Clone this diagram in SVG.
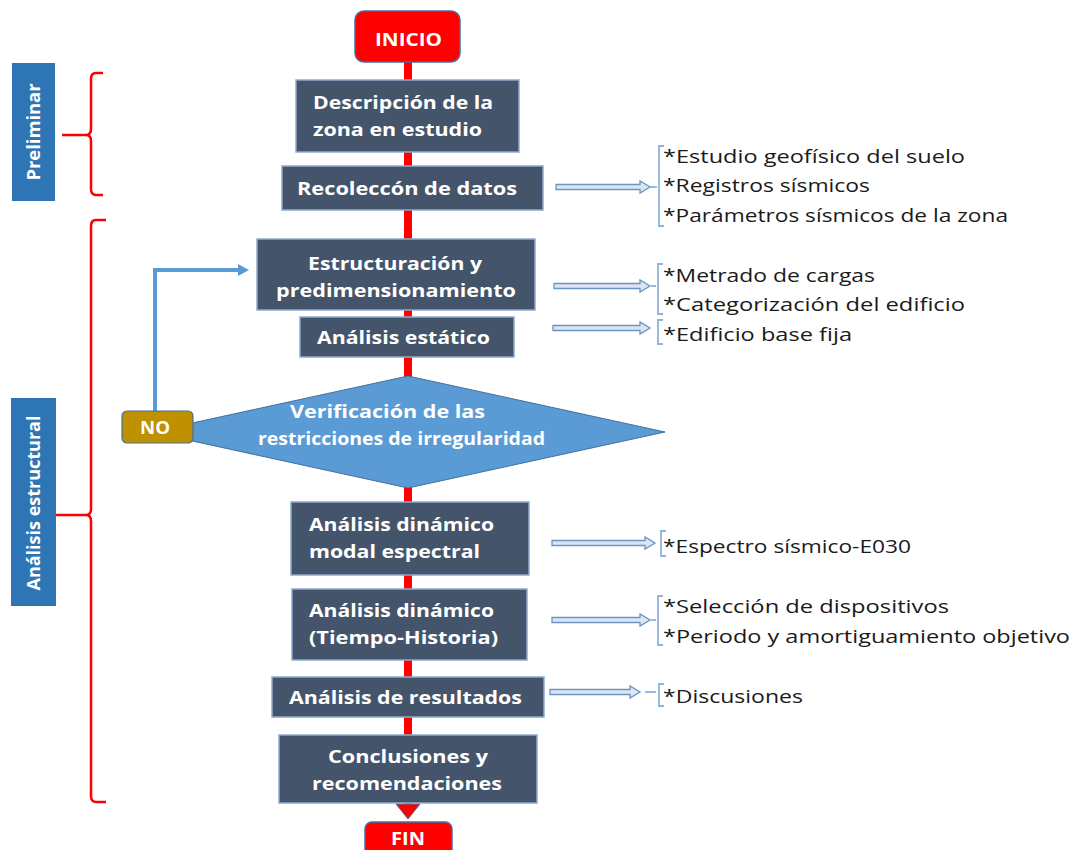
<svg xmlns="http://www.w3.org/2000/svg" width="1075" height="850" viewBox="0 0 1075 850">
<defs>
<style>
.box{fill:#44546A;stroke:#8EAAD0;stroke-width:1.5}
.bt{font-family:"Open Sans","DejaVu Sans",sans-serif;font-weight:bold;font-size:18px;fill:#ffffff}
.rt{font-family:"Open Sans","DejaVu Sans",sans-serif;font-size:19px;fill:#1a1a1a}
.term{fill:#FF0000;stroke:#41719C;stroke-width:1.5}
.side{fill:#2E75B6}
.st{font-family:"Open Sans","DejaVu Sans",sans-serif;font-weight:bold;font-size:17px;fill:#ffffff}
.brace{fill:none;stroke:#FF0000;stroke-width:2.5}
.harrow{fill:#DCE6F2;stroke:#6C94C4;stroke-width:1.3}
.brk{fill:none;stroke:#8FB3DE;stroke-width:1.8}
</style>
</defs>

<g id="connectors">
  <rect x="404" y="60" width="8" height="748" fill="#FF0000"/>
  <polygon points="396,804 420,804 408,819" fill="#FF0000" stroke="#41719C" stroke-width="1"/>
  <polyline points="155,411 155,270 240,270" fill="none" stroke="#5B9BD5" stroke-width="4"/>
  <polygon points="238,264 249,270 238,276" fill="#5B9BD5"/>
  <path class="harrow" d="M556,184.5 H640 V181 L650,187 L640,193 V189.5 H556 Z"/>
  <path class="harrow" d="M554,283.5 H640 V280 L650,286 L640,292 V288.5 H554 Z"/>
  <path class="harrow" d="M553,325.5 H640 V322 L650,328 L640,334 V330.5 H553 Z"/>
  <path class="harrow" d="M552,540.5 H645 V537 L655,543 L645,549 V545.5 H552 Z"/>
  <path class="harrow" d="M552,617.5 H640 V614 L650,620 L640,626 V622.5 H552 Z"/>
  <path class="harrow" d="M550,689.5 H630 V686 L640,692 L630,698 V694.5 H550 Z"/>
  <path class="brk" d="M650,187 H657"/>
  <path class="brk" d="M664,146 H659 V226 H664"/>
  <path class="brk" d="M651,286 H656"/>
  <path class="brk" d="M663,264 H658 V314 H663"/>
  <path class="brk" d="M663,320 H658 V344 H663"/>
  <path class="brk" d="M666,531 H661 V556 H666"/>
  <path class="brk" d="M651,620 H656"/>
  <path class="brk" d="M663,596 H658 V645 H663"/>
  <path class="brk" d="M645,692 H656"/>
  <path class="brk" d="M664,684 H659 V706 H664"/>
</g>

<g id="preliminar">
  <rect class="side" x="12" y="63" width="43" height="138"/>
  <text class="st" transform="translate(40,132) rotate(-90)" text-anchor="middle" textLength="97" lengthAdjust="spacingAndGlyphs">Preliminar</text>
  <path class="brace" d="M103,73 H96 Q91,73 91,79 V129 Q91,135 86,135 Q91,135 91,141 V189 Q91,195 96,195 H103"/>
  <path class="brace" d="M62,135 H86"/>
</g>

<g id="analisis-estructural">
  <rect class="side" x="11" y="398" width="45" height="208"/>
  <text class="st" transform="translate(40,503) rotate(-90)" text-anchor="middle" textLength="175" lengthAdjust="spacingAndGlyphs">Análisis estructural</text>
  <path class="brace" d="M106,220 H96 Q91,220 91,226 V509 Q91,515 86,515 Q91,515 91,521 V796 Q91,802 96,802 H106"/>
  <path class="brace" d="M56,515 H86"/>
</g>

<g id="inicio">
  <rect class="term" x="355" y="11" width="105" height="51" rx="9"/>
  <text class="bt" x="375" y="46" textLength="67" lengthAdjust="spacingAndGlyphs">INICIO</text>
</g>

<g id="descripcion">
  <rect class="box" x="296" y="80" width="223" height="72"/>
  <text class="bt" x="313" y="109" textLength="180" lengthAdjust="spacingAndGlyphs">Descripción de la</text>
  <text class="bt" x="313" y="136" textLength="169" lengthAdjust="spacingAndGlyphs">zona en estudio</text>
</g>

<g id="recoleccion">
  <rect class="box" x="282" y="166" width="261" height="44"/>
  <text class="bt" x="297" y="195" textLength="220" lengthAdjust="spacingAndGlyphs">Recoleccón de datos</text>
</g>

<g id="estructuracion">
  <rect class="box" x="257" y="239" width="278" height="71"/>
  <text class="bt" x="308" y="270" textLength="174" lengthAdjust="spacingAndGlyphs">Estructuración y</text>
  <text class="bt" x="276" y="297" textLength="240" lengthAdjust="spacingAndGlyphs">predimensionamiento</text>
</g>

<g id="estatico">
  <rect class="box" x="300" y="317" width="214" height="40"/>
  <text class="bt" x="317" y="344" textLength="173" lengthAdjust="spacingAndGlyphs">Análisis estático</text>
</g>

<g id="verificacion">
  <polygon points="408,376 665,432 408,488 151,432" fill="#5B9BD5" stroke="#41719C" stroke-width="1"/>
  <text class="bt" x="290" y="418" textLength="195" lengthAdjust="spacingAndGlyphs">Verificación de las</text>
  <text class="bt" x="258" y="445" textLength="287" lengthAdjust="spacingAndGlyphs">restricciones de irregularidad</text>
</g>

<g id="no">
  <rect x="122" y="411" width="71" height="32" rx="5" fill="#BF9000" stroke="#41719C" stroke-width="1.2"/>
  <text class="bt" x="140" y="434" textLength="30" lengthAdjust="spacingAndGlyphs">NO</text>
</g>

<g id="modal">
  <rect class="box" x="291" y="502" width="238" height="73"/>
  <text class="bt" x="309" y="531" textLength="185" lengthAdjust="spacingAndGlyphs">Análisis dinámico</text>
  <text class="bt" x="309" y="558" textLength="171" lengthAdjust="spacingAndGlyphs">modal espectral</text>
</g>

<g id="tiempo-historia">
  <rect class="box" x="292" y="589" width="235" height="71"/>
  <text class="bt" x="309" y="617" textLength="185" lengthAdjust="spacingAndGlyphs">Análisis dinámico</text>
  <text class="bt" x="309" y="644" textLength="189" lengthAdjust="spacingAndGlyphs">(Tiempo-Historia)</text>
</g>

<g id="resultados">
  <rect class="box" x="272" y="677" width="272" height="40"/>
  <text class="bt" x="289" y="704" textLength="233" lengthAdjust="spacingAndGlyphs">Análisis de resultados</text>
</g>

<g id="conclusiones">
  <rect class="box" x="279" y="735" width="258" height="68"/>
  <text class="bt" x="328" y="763" textLength="160" lengthAdjust="spacingAndGlyphs">Conclusiones y</text>
  <text class="bt" x="312" y="790" textLength="190" lengthAdjust="spacingAndGlyphs">recomendaciones</text>
</g>

<g id="fin">
  <rect class="term" x="365" y="822" width="87" height="40" rx="7"/>
  <text class="bt" x="391" y="845" textLength="34" lengthAdjust="spacingAndGlyphs">FIN</text>
</g>

<g id="notas">
  <text class="rt" x="663" y="163" textLength="302" lengthAdjust="spacingAndGlyphs">*Estudio geofísico del suelo</text>
  <text class="rt" x="663" y="192" textLength="207" lengthAdjust="spacingAndGlyphs">*Registros sísmicos</text>
  <text class="rt" x="663" y="222" textLength="345" lengthAdjust="spacingAndGlyphs">*Parámetros sísmicos de la zona</text>
  <text class="rt" x="663" y="282" textLength="212" lengthAdjust="spacingAndGlyphs">*Metrado de cargas</text>
  <text class="rt" x="663" y="311" textLength="302" lengthAdjust="spacingAndGlyphs">*Categorización del edificio</text>
  <text class="rt" x="663" y="341" textLength="189" lengthAdjust="spacingAndGlyphs">*Edificio base fija</text>
  <text class="rt" x="663" y="553" textLength="248" lengthAdjust="spacingAndGlyphs">*Espectro sísmico-E030</text>
  <text class="rt" x="663" y="613" textLength="286" lengthAdjust="spacingAndGlyphs">*Selección de dispositivos</text>
  <text class="rt" x="663" y="643" textLength="407" lengthAdjust="spacingAndGlyphs">*Periodo y amortiguamiento objetivo</text>
  <text class="rt" x="663" y="703" textLength="140" lengthAdjust="spacingAndGlyphs">*Discusiones</text>
</g>
</svg>
